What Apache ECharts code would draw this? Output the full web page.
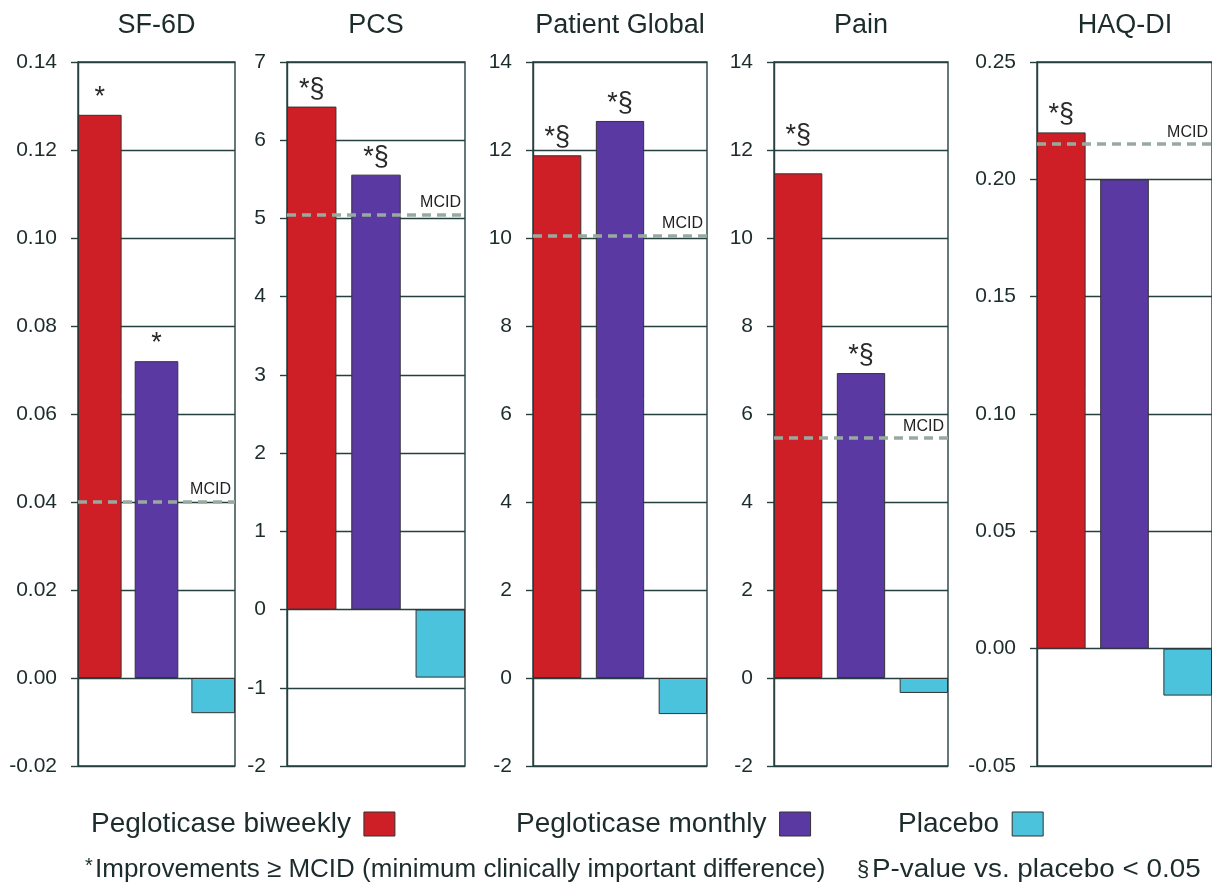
<!DOCTYPE html>
<html>
<head>
<meta charset="utf-8">
<script src="https://cdn.jsdelivr.net/npm/echarts@6/dist/echarts.min.js"></script>
<style>
html,body{margin:0;padding:0;background:#fff;}
#chart{width:1212px;height:893px;}
</style>
</head>
<body>
<div id="chart"></div>
<script>
// ---- data ----
const categories = ['Pegloticase biweekly', 'Pegloticase monthly', 'Placebo'];
const panelTitles = ['SF-6D', 'PCS', 'Patient Global', 'Pain', 'HAQ-DI'];
const biweekly = [0.128, 6.43, 11.88, 11.47, 0.220];
const monthly  = [0.072, 5.56, 12.66, 6.93, 0.200];
const placebo  = [-0.008, -0.87, -0.82, -0.34, -0.020];
const mcid     = [0.040, 5.05, 10.05, 5.45, 0.215];
const biweeklyMarks = ['*', '*§', '*§', '*§', '*§'];
const monthlyMarks  = ['*', '*§', '*§', '*§', ''];
const placeboMarks  = ['', '', '', '', ''];
const axisMin  = [-0.02, -2, -2, -2, -0.05];
const axisMax  = [0.14, 7, 14, 14, 0.25];
const axisStep = [0.02, 1, 2, 2, 0.05];
const tickDecimals = [2, 0, 0, 0, 2];
const footnoteStar = 'Improvements ≥ MCID (minimum clinically important difference)';
const footnoteSect = 'P-value vs. placebo < 0.05';

// ---- layout / style ----
const gridLeft  = [78, 287, 533, 774, 1037];
const gridWidth = [157, 178, 174, 174, 176];
const gridTop = 62, gridHeight = 704;
const markGap = [[4, 4], [4, 4], [4, 4], [24, 4], [4, 4]];
const colors = ['#cf1f26', '#5a3aa2', '#4cc3dc'];
const lineCol = '#263f3f';
const txtCol = '#1c2b2b';
const FONT = '"Liberation Sans", Arial, Helvetica, sans-serif';
const valuesBySeries = [biweekly, monthly, placebo];
const marksBySeries = [biweeklyMarks, monthlyMarks, placeboMarks];

const grids = [], xAxes = [], yAxes = [], series = [], graphics = [];
panelTitles.forEach((t, i) => {
  grids.push({
    left: gridLeft[i], top: gridTop, width: gridWidth[i], height: gridHeight,
    show: true, borderColor: lineCol, borderWidth: 1.4, backgroundColor: 'transparent'
  });
  xAxes.push({
    type: 'category', gridIndex: i, data: [t],
    axisLine: {show: false}, axisTick: {show: false}, axisLabel: {show: false}, splitLine: {show: false}
  });
  yAxes.push({
    type: 'value', gridIndex: i, min: axisMin[i], max: axisMax[i], interval: axisStep[i],
    axisLine: {show: true, lineStyle: {color: lineCol, width: 1.4}},
    axisTick: {show: true, length: 7, lineStyle: {color: lineCol, width: 1.4}},
    axisLabel: {
      margin: 21, fontSize: 21, color: txtCol, fontFamily: FONT,
      formatter: v => Number(v).toFixed(tickDecimals[i])
    },
    splitLine: {show: true, lineStyle: {color: lineCol, width: 1.4}}
  });
  categories.forEach((name, j) => {
    const mark = marksBySeries[j][i];
    const s = {
      type: 'bar', name: name, xAxisIndex: i, yAxisIndex: i,
      barGap: '30%', barCategoryGap: '0%',
      itemStyle: {color: colors[j], borderColor: '#333', borderWidth: 1},
      emphasis: {disabled: true},
      label: {
        show: mark !== '', position: 'top', distance: markGap[i][j] || 4,
        formatter: mark, fontSize: 27, color: '#2a2a2a', fontFamily: FONT
      },
      data: [valuesBySeries[j][i]],
      z: 3
    };
    if (j === 0) {
      s.markLine = {
        silent: true, symbol: 'none', precision: 4,
        lineStyle: {color: '#98aaa0', width: 3.5, type: [9, 6]},
        label: {show: true, formatter: 'MCID', position: 'insideEndTop', fontSize: 16, color: '#222', fontFamily: FONT, distance: 4},
        data: [{yAxis: mcid[i]}],
        z: 5
      };
    }
    series.push(s);
  });
  graphics.push({
    type: 'text', x: gridLeft[i] + gridWidth[i] / 2, y: 26,
    style: {text: t, fontSize: 27, fill: txtCol, fontFamily: FONT, textAlign: 'center', textVerticalAlign: 'middle'}
  });
});

// footnotes
graphics.push({type: 'text', x: 85, y: 856, style: {text: '*', fontSize: 20, fill: txtCol, fontFamily: FONT}});
graphics.push({type: 'text', x: 95, y: 857, style: {text: footnoteStar, fontSize: 26, fill: txtCol, fontFamily: FONT}});
graphics.push({type: 'text', x: 857, y: 859, style: {text: '§', fontSize: 22, fill: txtCol, fontFamily: FONT}});
graphics.push({type: 'text', x: 872, y: 857, scaleX: 1.07, style: {text: footnoteSect, fontSize: 26, fill: txtCol, fontFamily: FONT}});

const legendLeft = [86, 511, 893];
const legends = categories.map((c, j) => ({
  data: [c], left: legendLeft[j], top: 805, align: 'right',
  itemWidth: 31, itemHeight: 24, itemGap: 0,
  icon: 'rect', selectedMode: false,
  itemStyle: {borderColor: '#333', borderWidth: 1},
  textStyle: {fontSize: 28, color: txtCol, fontFamily: FONT, padding: [0, 8, 0, 0]}
}));

const chart = echarts.init(document.getElementById('chart'), null, {renderer: 'canvas'});
chart.setOption({
  backgroundColor: '#fff',
  animation: false,
  grid: grids, xAxis: xAxes, yAxis: yAxes,
  legend: legends,
  series: series,
  graphic: graphics
});
</script>
</body>
</html>
